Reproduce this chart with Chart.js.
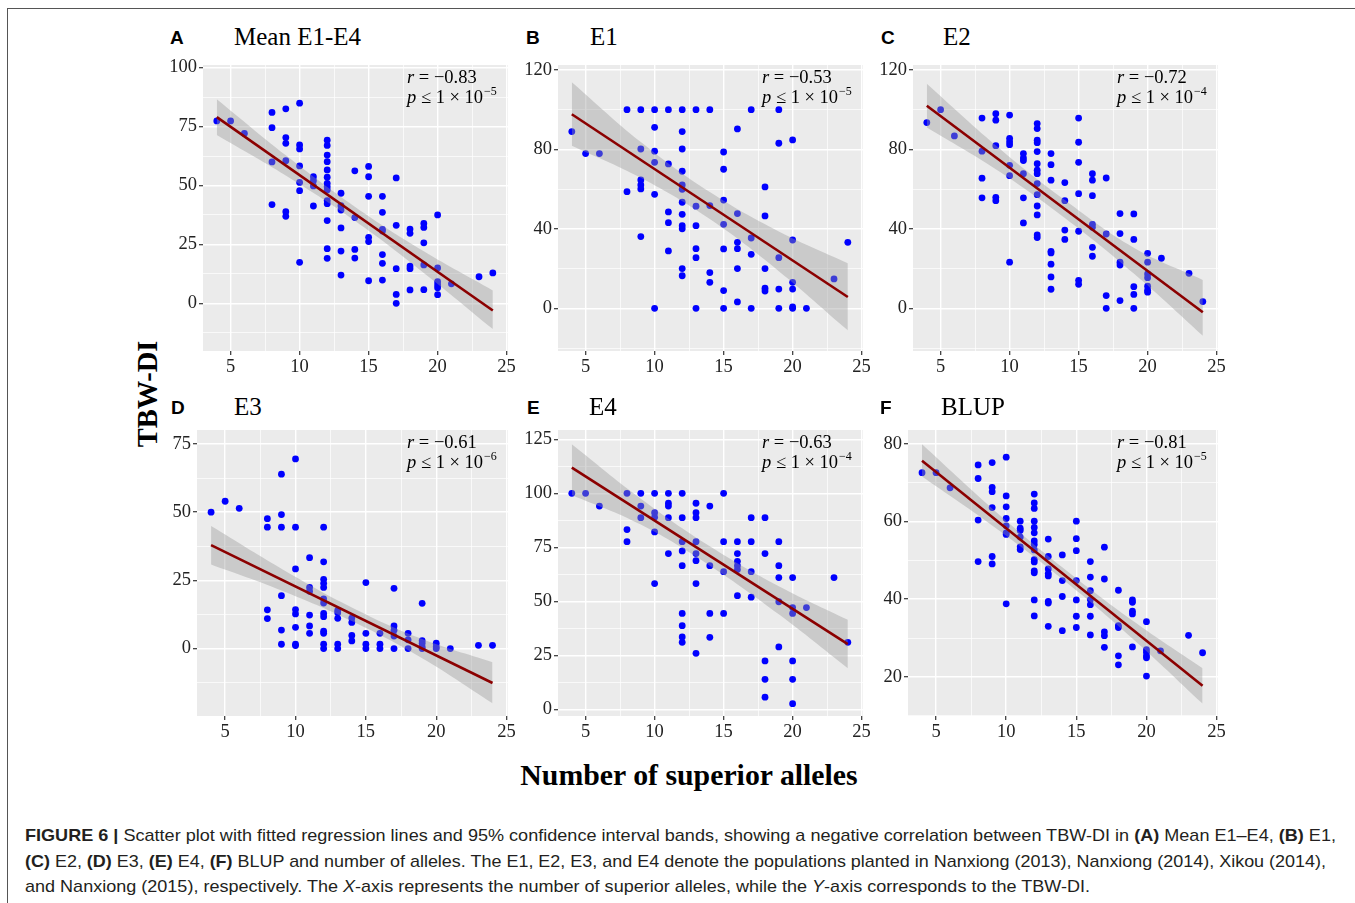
<!DOCTYPE html>
<html>
<head>
<meta charset="utf-8">
<script src="https://cdn.jsdelivr.net/npm/chart.js@4.4.0/dist/chart.umd.min.js"></script>
<style>
  body { margin: 0; background: #fff; width: 1355px; height: 903px; overflow: hidden; position: relative; }
  #frame { position: absolute; left: 7px; top: 8px; width: 1400px; height: 950px; border-left: 1.5px solid #555; border-top: 1.5px solid #555; }
  .box { position: absolute; }
  .tag { position: absolute; font: bold 19px "Liberation Sans", Arial, sans-serif; line-height: 19px; color: #000; }
  .ttl { position: absolute; font: 25px "Liberation Serif", "Times New Roman", serif; line-height: 25px; color: #000; white-space: nowrap; }
  #ylab { position: absolute; left: 148px; top: 394px; transform: translate(-50%, -50%) rotate(-90deg); font: bold 28.5px "Liberation Serif", serif; white-space: nowrap; }
  #xlab { position: absolute; left: 689px; top: 760px; transform: translateX(-50%); font: bold 29.8px "Liberation Serif", serif; line-height: 30px; white-space: nowrap; }
  .cap { position: absolute; left: 25px; font: 17px "Liberation Sans", Arial, sans-serif; line-height: 17px; color: #231f20; white-space: nowrap; transform-origin: 0 0; }
  .cap b { font-weight: bold; }
</style>
</head>
<body>
<div id="frame"></div>
<div id="ylab">TBW-DI</div>
<div id="xlab">Number of superior alleles</div>
<div class="cap" data-w="1311" style="top:827px"><b>FIGURE 6 |</b> Scatter plot with fitted regression lines and 95% confidence interval bands, showing a negative correlation between TBW-DI in <b>(A)</b> Mean E1–E4, <b>(B)</b> E1,</div>
<div class="cap" data-w="1301" style="top:853px"><b>(C)</b> E2, <b>(D)</b> E3, <b>(E)</b> E4, <b>(F)</b> BLUP and number of alleles. The E1, E2, E3, and E4 denote the populations planted in Nanxiong (2013), Nanxiong (2014), Xikou (2014),</div>
<div class="cap" data-w="1065" style="top:878px">and Nanxiong (2015), respectively. The <i>X</i>-axis represents the number of superior alleles, while the <i>Y</i>-axis corresponds to the TBW-DI.</div>
<script>
// number of superior alleles (x categories shared by all panels)
const alleles = [4, 5, 6, 8, 9, 10, 11, 12, 13, 14, 15, 16, 17, 18, 19, 20, 21, 23, 24];

// TBW-DI values, one list per allele count, per panel
const tbwA = [[77.4], [77.4], [72.1], [81, 74.5, 60, 41.9], [82.5, 70.3, 67.9, 60.5, 38.9, 36.9],
  [84.9, 67.2, 65.5, 58.3, 51.3, 47.8, 17.4], [53.7, 52, 49.8, 41.3],
  [69.2, 67, 62.9, 60.1, 56.6, 53.5, 50.9, 49.5, 48.1, 43.6, 42.3, 35.1, 23.2, 19.1],
  [46.7, 41.4, 39.6, 32, 22.2, 12], [56.2, 36.4, 22.9, 19.2], [58.1, 53.7, 45.4, 28, 26.2, 9.6],
  [45.4, 38.6, 31.4, 30.7, 20.7, 17, 9.9], [53.2, 33.1, 14.7, 3.8, 0], [31.5, 29.7, 15.8, 14.7, 5.7],
  [33.9, 32.2, 25.7, 16.3, 5.8], [37.5, 15, 9.2, 7.8, 6.6, 3.7], [8.3], [11.3], [12.9]];
const tbwB = [[89], [77.9], [77.9], [100, 58.7], [100, 80.2, 64.6, 62.1, 60.1, 36.1],
  [100, 91.1, 79.1, 73.5, 57.4, 0], [100, 72.7, 48.5, 43.1, 28.9],
  [100, 89, 80.2, 69, 62.1, 59.9, 53.4, 47.3, 41.6, 40, 20, 16.4],
  [100, 51.4, 41.6, 30, 25.5, 0], [100, 51.7, 18, 13.1], [78.7, 70, 54.5, 42.3, 29.9, 8.9, 0],
  [90.3, 47.7, 33.2, 30, 20, 3.2], [100, 35.4, 27.2, 0], [61.1, 46.5, 20, 10.1, 8.7],
  [100, 83.1, 25.5, 9.7, 0], [84.8, 34.4, 13.1, 9.7, 0.7, 0], [0], [14.8], [33.2]];
const tbwC = [[93.5], [100], [86.8], [95.8, 79.1, 65.5, 55.6], [98, 94.7, 81.9, 55.9, 54.2],
  [97.3, 85.6, 83.9, 82.4, 72, 66.8, 23.2], [77.9, 75.7, 74.4, 67.8, 55.6, 43],
  [93, 90.5, 84.6, 83.4, 78.9, 72.8, 69.5, 67.8, 62.8, 57.2, 51.5, 47, 36.9, 35.6],
  [77.9, 72.3, 64.5, 28.7, 27.9, 22.2, 15.8, 9.6], [63.3, 54.2, 39.4, 34.7],
  [95.8, 83.6, 73.5, 57.7, 38.8, 14.1, 12.1], [67.8, 64.5, 56.7, 42.3, 40.8, 30.7, 26.2],
  [65.6, 37.4, 6.4, 0], [47.7, 37.6, 23.2, 21.8, 3.9], [47.5, 34.7, 10.9, 7, 0],
  [27.7, 23.2, 17.3, 15.4, 11.1, 9.1, 8.1], [25.2], [17.6], [3.4]];
const tbwD = [[50], [54], [51.4], [47.6, 44.5, 14.2, 11], [63.9, 49.1, 44.5, 19.4, 6.8, 1.6],
  [69.5, 44.5, 29.2, 14.3, 12.7, 7.8, 1.6, 1.1], [33.3, 22.4, 21, 12.3, 8.3, 5.6],
  [44.5, 31.8, 25.4, 23.9, 22.4, 18.2, 16.7, 12.9, 11.7, 6.4, 5.6, 1.6, 0],
  [14, 13.1, 11.1, 1.6, 0], [11.2, 9.6, 4.8, 2.8], [24.2, 5.6, 1.6, 0], [5.6, 1.6, 0],
  [22.1, 8.3, 6.7, 4.6, 0], [5.6, 3.2, 0], [16.6, 2.9, 2, 0.7, 0], [2, 0.7, 0], [0], [1.2], [1.2]];
const tbwE = [[100], [100], [94.1], [100, 83.2, 77.6], [100, 94.1, 88.7], [100, 91, 88.9, 82.1, 58.2],
  [100, 95.4, 94.1, 88.7, 72.1], [100, 88.7, 77.6, 73.3, 66.5, 44.4, 38.7, 33.5, 31],
  [95.4, 91, 88.7, 77.6, 72.1, 68.8, 58.2, 25.9], [94.1, 66.5, 44.4, 33.3], [100, 77.6, 63.7, 44.4],
  [77.6, 72.1, 68.5, 66.5, 64.7, 52.6], [88.7, 77.6, 63.7, 51.9], [88.7, 72.1, 22.4, 13.9, 5.6],
  [77.6, 66.5, 61, 49.8, 28.9], [61, 47.1, 44.4, 22.4, 13.9, 2.6], [47.1], [61], [31]];
const tbwF = [[72.6], [72.6], [68.7], [74.6, 71.1, 60.4, 49.7], [75.2, 68.8, 67.7, 63.6, 51, 49.1],
  [76.6, 66.6, 63.8, 60.8, 58.9, 57.1, 56.7, 38.8], [60.1, 58.3, 57.7, 56, 53.5, 52.8],
  [67.1, 64.8, 63.4, 60.1, 58.5, 57.1, 55, 54.1, 52.7, 50.2, 49.6, 47.3, 46.8, 39.8, 35.7],
  [55.5, 51, 47.8, 46.6, 46, 39.4, 39, 33], [51.4, 44.8, 40.7, 31.9],
  [60.1, 55.6, 52.5, 44.8, 39.8, 35.6, 32.7], [49.7, 45.7, 42.2, 39.9, 38.6, 35.6, 30.8],
  [53.4, 45.2, 31.6, 30.6, 27.6], [42.3, 33.2, 32.7, 25.4, 23.1], [39.8, 39.2, 36.9, 36.2, 27.7],
  [34.2, 27, 26.3, 25.4, 24.9, 20.2], [26.7], [30.7], [26.2]];

// fitted line ends (at x = 4 and x = 24) and 95% CI band
const fitX = [4, 24];
const fitA = [79, -3], fitB = [97.7, 5.7], fitC = [102, -2];
const fitD = [37.9, -12.6], fitE = [111.9, 30.2], fitF = [75.7, 17.7];
const bandX = [4, 9, 14, 19, 24];
const bandHiA = [86.6, 62.8, 41.0, 22.1, 5.5], bandLoA = [71.4, 54.2, 35.0, 12.9, -10.9];
const bandHiB = [113.8, 83.7, 58.5, 38.7, 22.7], bandLoB = [81.9, 65.7, 44.9, 18.7, -11.1];
const bandHiC = [113, 82, 54.5, 30.5, 14.3], bandLoC = [91, 70, 45.5, 17.5, -13.8];
const bandHiD = [44.9, 29.3, 15.1, 3.5, -5], bandLoD = [30.8, 21.3, 10.1, -3.5, -20];
const bandHiE = [122.7, 97.5, 75.5, 57, 41.4], bandLoE = [99.2, 85.5, 66.5, 44, 19];
const bandHiF = [79.9, 63.4, 48.2, 34.5, 22.2], bandLoF = [71.6, 59, 45.2, 29.9, 13.1];

// labels and statistics
const tags = ['A', 'B', 'C', 'D', 'E', 'F'];
const titles = ['Mean E1-E4', 'E1', 'E2', 'E3', 'E4', 'BLUP'];
const statR = ['\u22120.83', '\u22120.53', '\u22120.72', '\u22120.61', '\u22120.63', '\u22120.81'];
const statP = ['\u22125', '\u22125', '\u22124', '\u22126', '\u22124', '\u22125'];

// tick labels
const xTicks = [5, 10, 15, 20, 25];
const yTicksA = [0, 25, 50, 75, 100];
const yTicksB = [0, 40, 80, 120];
const yTicksC = [0, 40, 80, 120];
const yTicksD = [0, 25, 50, 75];
const yTicksE = [0, 25, 50, 75, 100, 125];
const yTicksF = [20, 40, 60, 80];

const SERIF = '"Liberation Serif", "Times New Roman", serif';

const panels = [
  { tbw: tbwA, fit: fitA, hi: bandHiA, lo: bandLoA, yt: yTicksA, ymin: -20.2, ymax: 101.1, rect: [202.7, 65, 508, 351], tagX: 170, titleX: 234 },
  { tbw: tbwB, fit: fitB, hi: bandHiB, lo: bandLoB, yt: yTicksB, ymin: -21.5, ymax: 122.5, rect: [557.7, 65, 863, 351], tagX: 526, titleX: 590 },
  { tbw: tbwC, fit: fitC, hi: bandHiC, lo: bandLoC, yt: yTicksC, ymin: -21.5, ymax: 122.5, rect: [912.7, 65, 1218, 351], tagX: 881, titleX: 943 },
  { tbw: tbwD, fit: fitD, hi: bandHiD, lo: bandLoD, yt: yTicksD, ymin: -24.7, ymax: 80.1, rect: [196.7, 430, 508, 716], tagX: 171, titleX: 234 },
  { tbw: tbwE, fit: fitE, hi: bandHiE, lo: bandLoE, yt: yTicksE, ymin: -3.1, ymax: 129.3, rect: [557.7, 430, 863, 716], tagX: 527, titleX: 589 },
  { tbw: tbwF, fit: fitF, hi: bandHiF, lo: bandLoF, yt: yTicksF, ymin: 9.9, ymax: 83.6, rect: [907.7, 430, 1218, 716], tagX: 880, titleX: 941 }
];

// grey panel background + r/p annotation
const panelPlugin = {
  id: 'panelPlugin',
  beforeDraw(chart) {
    const a = chart.chartArea, c = chart.ctx;
    c.save();
    c.fillStyle = '#ebebeb';
    c.fillRect(a.left, a.top, a.right - a.left, a.bottom - a.top);
    c.restore();
  },
  afterDraw(chart) {
    const i = chart.options.plugins.panelPlugin.idx;
    const a = chart.chartArea, c = chart.ctx;
    let x = a.right - 101;
    const y1 = a.top + 18, y2 = a.top + 38;
    c.save();
    c.fillStyle = '#000';
    c.textBaseline = 'alphabetic';
    c.font = 'italic 18.5px ' + SERIF;
    c.fillText('r', x, y1);
    let w = c.measureText('r').width;
    c.font = '18.5px ' + SERIF;
    c.fillText(' = ' + statR[i], x + w, y1);
    c.font = 'italic 18.5px ' + SERIF;
    c.fillText('p', x, y2);
    w = c.measureText('p').width;
    c.font = '18.5px ' + SERIF;
    const t = ' \u2264 1 \u00d7 10';
    c.fillText(t, x + w, y2);
    w += c.measureText(t).width;
    c.font = '12px ' + SERIF;
    c.fillText(statP[i], x + w + 1, y2 - 8);
    c.restore();
  }
};

function gridOpts(majors) {
  const isMajor = (ctx) => ctx.tick && majors.includes(ctx.tick.value);
  return {
    color: '#ffffff',
    lineWidth: (ctx) => isMajor(ctx) ? 1.4 : 0.7,
    drawTicks: true,
    tickLength: 4,
    tickWidth: 1.2,
    tickColor: (ctx) => isMajor(ctx) ? '#333' : 'rgba(0,0,0,0)'
  };
}

function withMinors(majors, lo, hi) {
  const step = majors[1] - majors[0];
  const out = [];
  for (let v = majors[0] - step; v <= majors[majors.length - 1] + step; v += step / 2) {
    if (v > lo && v < hi) out.push(v);
  }
  return out;
}

const PAD_L = 50, PAD_T = 10, PAD_R = 14, X_H = 28;

panels.forEach((p, i) => {
  const [l, t, r, b] = p.rect;
  const row = i < 3 ? 0 : 1;

  const tag = document.createElement('div');
  tag.className = 'tag';
  tag.textContent = tags[i];
  tag.style.left = p.tagX + 'px';
  tag.style.top = (row ? 398 : 28) + 'px';
  document.body.appendChild(tag);

  const ttl = document.createElement('div');
  ttl.className = 'ttl';
  ttl.textContent = titles[i];
  ttl.style.left = p.titleX + 'px';
  ttl.style.top = (row ? 394 : 24) + 'px';
  document.body.appendChild(ttl);

  const box = document.createElement('div');
  box.className = 'box';
  const W = Math.round(r - l + PAD_L + PAD_R), H = Math.round(b - t + PAD_T + X_H);
  box.style.left = (l - PAD_L) + 'px';
  box.style.top = (t - PAD_T) + 'px';
  box.style.width = W + 'px';
  box.style.height = H + 'px';
  const cv = document.createElement('canvas');
  cv.width = W; cv.height = H;
  box.appendChild(cv);
  document.body.appendChild(box);

  const pts = alleles.flatMap((a, k) => p.tbw[k].map(v => ({ x: a, y: v })));
  const xGrid = withMinors(xTicks, 3, 25.2);
  const yGrid = withMinors(p.yt, p.ymin, p.ymax);

  new Chart(cv, {
    type: 'scatter',
    data: {
      datasets: [
        { data: pts, backgroundColor: '#0000ff', borderWidth: 0, pointRadius: 3.4, pointHoverRadius: 3.4, order: 3 },
        { type: 'line', data: bandX.map((x, k) => ({ x, y: p.lo[k] })), borderWidth: 0, borderColor: 'rgba(0,0,0,0)', pointRadius: 0, tension: 0.4, fill: false, order: 2 },
        { type: 'line', data: bandX.map((x, k) => ({ x, y: p.hi[k] })), borderWidth: 0, borderColor: 'rgba(0,0,0,0)', pointRadius: 0, tension: 0.4, fill: '-1', backgroundColor: 'rgba(153,153,153,0.4)', order: 2 },
        { type: 'line', data: fitX.map((x, k) => ({ x, y: p.fit[k] })), borderColor: '#8b0000', borderWidth: 2.6, pointRadius: 0, fill: false, order: 1 }
      ]
    },
    options: {
      responsive: false,
      animation: false,
      devicePixelRatio: 1,
      layout: { padding: { left: 0, top: PAD_T, right: PAD_R, bottom: 0 } },
      plugins: { legend: { display: false }, tooltip: { enabled: false }, panelPlugin: { idx: i } },
      scales: {
        x: {
          type: 'linear', min: 3, max: 25.1,
          afterBuildTicks: (s) => { s.ticks = xGrid.map(v => ({ value: v })); },
          afterFit: (s) => { s.height = X_H; s.paddingLeft = 0; s.paddingRight = 0; },
          ticks: { callback: (v) => xTicks.includes(v) ? String(v) : '', font: { family: SERIF, size: 18.5 }, color: '#222', padding: 1, maxRotation: 0, autoSkip: false },
          grid: gridOpts(xTicks),
          border: { display: false }
        },
        y: {
          type: 'linear', min: p.ymin, max: p.ymax,
          afterBuildTicks: (s) => { s.ticks = yGrid.map(v => ({ value: v })); },
          afterFit: (s) => { s.width = PAD_L; s.paddingTop = 0; s.paddingBottom = 0; },
          ticks: { callback: (v) => p.yt.includes(v) ? String(v) : '', font: { family: SERIF, size: 18.5 }, color: '#222', padding: 2, autoSkip: false },
          grid: gridOpts(p.yt),
          border: { display: false }
        }
      }
    },
    plugins: [panelPlugin]
  });
});

// stretch caption lines to the measured widths
document.querySelectorAll('.cap').forEach(el => {
  const target = +el.dataset.w;
  const w = el.getBoundingClientRect().width;
  el.style.transform = 'scaleX(' + (target / w) + ')';
});
</script>
</body>
</html>
